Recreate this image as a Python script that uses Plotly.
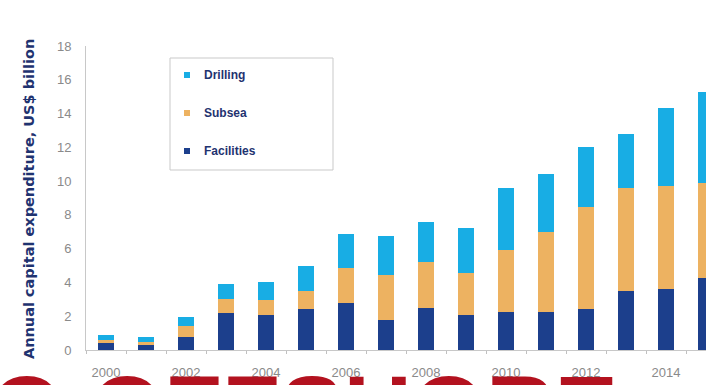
import plotly.graph_objects as go

# Annual offshore capital expenditure by segment, US$ billion
years = list(range(2000, 2016))
facilities = [0.40, 0.35, 0.75, 2.20, 2.05, 2.40, 2.80, 1.80, 2.50, 2.10, 2.25, 2.25, 2.40, 3.50, 3.60, 4.25]
subsea     = [0.20, 0.10, 0.65, 0.80, 0.90, 1.10, 2.05, 2.65, 2.70, 2.45, 3.70, 4.75, 6.05, 6.10, 6.10, 5.65]
drilling   = [0.30, 0.30, 0.55, 0.90, 1.05, 1.50, 2.00, 2.30, 2.35, 2.70, 3.65, 3.40, 3.55, 3.20, 4.60, 5.40]

tick_years = [2000, 2002, 2004, 2006, 2008, 2010, 2012, 2014]
tick_labels = [str(y) for y in tick_years]
legend_names = ["Drilling", "Subsea", "Facilities"]

C_FAC = "#1C3F8C"
C_SUB = "#EDB261"
C_DRI = "#18ADE4"
NAVY = "#1F3370"
GREY = "#8A8A8A"

fig = go.Figure()
for name, vals, col in [("Facilities", facilities, C_FAC),
                        ("Subsea", subsea, C_SUB),
                        ("Drilling", drilling, C_DRI)]:
    fig.add_trace(go.Bar(x=years, y=vals, name=name, marker=dict(color=col, line=dict(width=0)),
                         width=0.42, showlegend=False))

# plot area geometry in pixels (for placing the hand-built legend box)
L, R, T, B = 86, 706, 46, 350
W, H = R - L, B - T
px = lambda x: (x - L) / W
py = lambda y: (B - y) / H

shapes = [dict(type="rect", xref="paper", yref="paper",
               x0=px(170), x1=px(333), y0=py(170), y1=py(58),
               line=dict(color="#C9C9C9", width=1), fillcolor="white", layer="below")]
annotations = []
for i, (name, col) in enumerate(zip(legend_names, [C_DRI, C_SUB, C_FAC])):
    cy = 75 + i * 38
    shapes.append(dict(type="rect", xref="paper", yref="paper",
                       x0=px(184), x1=px(190), y0=py(cy + 3), y1=py(cy - 3),
                       line=dict(width=0), fillcolor=col))
    annotations.append(dict(text=name, xref="paper", yref="paper", x=px(202), y=py(cy),
                            xanchor="left", yanchor="middle", showarrow=False,
                            font=dict(family="Liberation Sans", size=12, color=NAVY, weight="bold")))

annotations.append(dict(text="Annual capital expenditure, US$ billion", textangle=-90,
                        xref="paper", yref="paper", x=px(29), y=py(199),
                        xanchor="center", yanchor="middle", showarrow=False,
                        font=dict(family="DejaVu Sans", size=14.5, color=NAVY, weight="bold")))

annotations.append(dict(text="GO OFFSHORE", xref="paper", yref="paper", x=px(-86), y=py(354),
                        xanchor="left", yanchor="top", showarrow=False,
                        font=dict(family="Liberation Sans", size=95, color="#B3121F", weight="bold")))

fig.update_layout(
    width=706, height=385,
    margin=dict(l=L, r=0, t=T, b=385 - B),
    paper_bgcolor="white", plot_bgcolor="white",
    barmode="stack",
    shapes=shapes, annotations=annotations,
    xaxis=dict(range=[1999.5, 2015.0], tickvals=tick_years, ticktext=tick_labels,
               ticks="", showline=True, linecolor="#C8C8C8", linewidth=1,
               showgrid=False, zeroline=False, ticklabelstandoff=10,
               minor=dict(tick0=1999.5, dtick=1, ticks="outside", ticklen=3, tickcolor="#C0C0C0"),
               tickfont=dict(family="Liberation Sans", size=13, color=GREY)),
    yaxis=dict(range=[0, 18], dtick=2, ticks="", showline=True, linecolor="#C8C8C8",
               linewidth=1, showgrid=False, zeroline=False, ticklabelstandoff=11,
               tickfont=dict(family="Liberation Sans", size=13, color=GREY)),
)

fig.write_html("out.html")
